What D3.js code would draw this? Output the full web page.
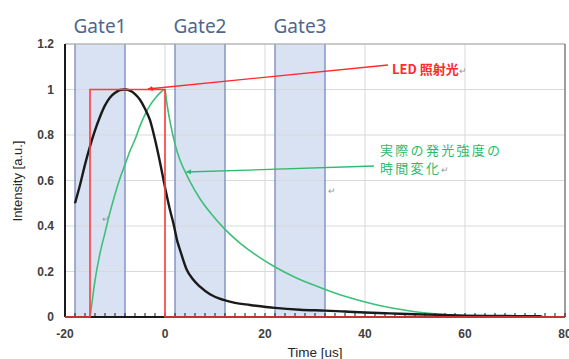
<!DOCTYPE html>
<html><head><meta charset="utf-8">
<script src="https://cdn.jsdelivr.net/npm/d3@7"></script>
<style>body{margin:0;background:#fff}svg{display:block}</style>
</head><body><svg id="c" width="569" height="359"></svg>
<script>
// ---- data ----
const xTicks = [-20, 0, 20, 40, 60, 80];
const yTicks = [0, 0.2, 0.4, 0.6, 0.8, 1, 1.2];
const yTickLabels = ["0", "0.2", "0.4", "0.6", "0.8", "1", "1.2"];
const gateNames = ["Gate1", "Gate2", "Gate3"];
const gateStart = [-18, 2, 22];
const gateEnd = [-8, 12, 32];
const ledX = [-20, -15, -15, 0, 0, 80];
const ledY = [0, 0, 1, 1, 0, 0];
const emitX = [-18, -17, -16, -15, -14, -13, -12, -11, -10, -9, -8, -7, -6, -5, -4, -3, -2, -1, 0, 1, 1.7, 2.5, 3, 4.3, 5.5, 7, 9, 11.7, 14, 17, 22, 27, 32, 36, 40, 45, 50, 55, 60, 65, 70, 75, 75.5];
const emitY = [0.50, 0.58, 0.67, 0.75, 0.82, 0.88, 0.93, 0.965, 0.985, 0.998, 1.0, 0.995, 0.98, 0.955, 0.915, 0.865, 0.78, 0.68, 0.57, 0.47, 0.41, 0.33, 0.295, 0.21, 0.168, 0.133, 0.10, 0.075, 0.062, 0.053, 0.04, 0.032, 0.028, 0.024, 0.02, 0.016, 0.012, 0.009, 0.006, 0.005, 0.004, 0.003, 0];
const respX = [-15, -14.5, -14, -13, -12, -11, -10, -9, -8, -7, -6, -5, -4, -3, -2, -1, 0, 0.3, 1, 2, 3, 4, 5, 7, 9, 12, 15, 18, 22, 26, 30, 34, 38, 42, 46, 50, 54, 58, 62, 66, 70, 80];
const respY = [0, 0.08, 0.16, 0.28, 0.37, 0.46, 0.54, 0.61, 0.67, 0.73, 0.78, 0.84, 0.89, 0.93, 0.96, 0.985, 1.0, 0.95, 0.86, 0.76, 0.69, 0.64, 0.595, 0.52, 0.46, 0.385, 0.325, 0.275, 0.22, 0.175, 0.138, 0.105, 0.078, 0.055, 0.037, 0.023, 0.014, 0.008, 0.004, 0.0015, 0, 0];
const minorTicks = d3.range(-20, 81, 2);

// ---- drawing ----
const svg = d3.select("#c");
const x = d3.scaleLinear().domain([-20, 80]).range([65, 565]);
const y = d3.scaleLinear().domain([0, 1.2]).range([317, 44]);

const defs = svg.append("defs");
function marker(id, color) {
  defs.append("marker").attr("id", id).attr("viewBox", "0 0 10 10")
    .attr("refX", 9).attr("refY", 5).attr("markerWidth", 4).attr("markerHeight", 4)
    .attr("orient", "auto").attr("markerUnits", "strokeWidth")
    .append("path").attr("d", "M0,0L10,5L0,10Z").attr("fill", color);
}
marker("ar", "#ff2a2a");
marker("ag", "#2dbb6a");

// gates fill
const gates = svg.append("g");
gateStart.forEach((s, i) => {
  gates.append("rect").attr("x", x(s)).attr("y", y(1.2)).attr("width", x(gateEnd[i]) - x(s))
    .attr("height", y(0) - y(1.2)).attr("fill", "#d9e2f3");
});

// gridlines
const grid = svg.append("g").attr("stroke", "#d9d9d9").attr("stroke-width", 1);
yTicks.filter(v => v > 0).forEach(v => grid.append("line").attr("x1", x(-20)).attr("x2", x(80)).attr("y1", y(v)).attr("y2", y(v)));
xTicks.filter(v => v > -20 && v < 80).forEach(v => grid.append("line").attr("x1", x(v)).attr("x2", x(v)).attr("y1", y(0)).attr("y2", y(1.2)));

// gate borders
const gb = svg.append("g").attr("stroke", "#7589bd").attr("stroke-width", 1.3);
gateStart.forEach((s, i) => {
  [s, gateEnd[i]].forEach(v => gb.append("line").attr("x1", x(v)).attr("x2", x(v)).attr("y1", y(0)).attr("y2", y(1.2)));
});

// frame
svg.append("line").attr("x1", x(-20)).attr("x2", x(80)).attr("y1", y(1.2)).attr("y2", y(1.2)).attr("stroke", "#a6a6a6");
svg.append("line").attr("x1", x(80)).attr("x2", x(80)).attr("y1", y(0)).attr("y2", y(1.2)).attr("stroke", "#7f7f7f").attr("stroke-width", 1.5);

// gate labels
gateNames.forEach((n, i) => {
  svg.append("text").attr("x", (x(gateStart[i]) + x(gateEnd[i])) / 2).attr("y", 33)
    .attr("text-anchor", "middle").attr("font-family", "Noto Sans, sans-serif").attr("font-size", 19)
    .attr("fill", "#4d6790").text(n);
});

const line = d3.line().x(d => x(d[0])).y(d => y(d[1]));
// green response
svg.append("path").datum(respX.map((v, i) => [v, respY[i]]))
  .attr("d", line.curve(d3.curveMonotoneX)).attr("fill", "none").attr("stroke", "#3cbf78").attr("stroke-width", 1.6);
// black emission
svg.append("path").datum(emitX.map((v, i) => [v, emitY[i]]))
  .attr("d", line.curve(d3.curveMonotoneX)).attr("fill", "none").attr("stroke", "#1a1a1a").attr("stroke-width", 2.4);

// axes
svg.append("line").attr("x1", x(-20)).attr("x2", x(-20)).attr("y1", y(0)).attr("y2", y(1.2)).attr("stroke", "#1a1a1a").attr("stroke-width", 2);
svg.append("line").attr("x1", x(-20)).attr("x2", x(80)).attr("y1", y(0)).attr("y2", y(0)).attr("stroke", "#1a1a1a").attr("stroke-width", 2);
const tg = svg.append("g").attr("stroke", "#1a1a1a").attr("stroke-width", 1);
minorTicks.forEach(v => tg.append("line").attr("x1", x(v)).attr("x2", x(v)).attr("y1", y(0) - 4).attr("y2", y(0)));

// red LED
svg.append("path").datum(ledX.map((v, i) => [v, ledY[i]]))
  .attr("d", line.curve(d3.curveLinear)).attr("fill", "none").attr("stroke", "#ff3b3b").attr("stroke-width", 1.6);

// tick labels
const lblFont = "Liberation Sans, Arial, sans-serif";
yTicks.forEach((v, i) => svg.append("text").attr("x", 54).attr("y", y(v) + 4).attr("text-anchor", "end")
  .attr("font-family", lblFont).attr("font-size", 12).attr("font-weight", "bold").attr("fill", "#404040").text(yTickLabels[i]));
xTicks.forEach(v => svg.append("text").attr("x", x(v)).attr("y", 338).attr("text-anchor", "middle")
  .attr("font-family", lblFont).attr("font-size", 12).attr("font-weight", "bold").attr("fill", "#404040").text(v));

// axis titles
svg.append("text").attr("transform", "translate(22,181) rotate(-90)").attr("text-anchor", "middle")
  .attr("font-family", lblFont).attr("font-size", 13).attr("fill", "#262626").text("Intensity [a.u.]");
svg.append("text").attr("x", 315).attr("y", 357).attr("text-anchor", "middle")
  .attr("font-family", lblFont).attr("font-size", 13.5).attr("fill", "#262626").text("Time [us]");

// annotations
svg.append("line").attr("x1", 388).attr("y1", 65).attr("x2", x(-3.4)).attr("y2", 89)
  .attr("stroke", "#ff2a2a").attr("stroke-width", 1.3).attr("marker-end", "url(#ar)");
const jp = "Noto Sans CJK JP, sans-serif";
const t1 = svg.append("text").attr("x", 392).attr("y", 74).attr("font-family", jp).attr("font-size", 13)
  .attr("font-weight", "bold").attr("fill", "#ff2a2a");
t1.append("tspan").text("LED 照射光");
t1.append("tspan").attr("font-size", 9).attr("font-weight", "normal").attr("fill", "#999").text("↵");

svg.append("line").attr("x1", 374).attr("y1", 166).attr("x2", x(4.3)).attr("y2", 172)
  .attr("stroke", "#2dbb6a").attr("stroke-width", 1.3).attr("marker-end", "url(#ag)");
svg.append("text").attr("x", 380).attr("y", 155).attr("font-family", jp).attr("font-size", 13)
  .attr("letter-spacing", 2.3).attr("fill", "#2dbb6a").text("実際の発光強度の");
const t2 = svg.append("text").attr("x", 380).attr("y", 173).attr("font-family", jp).attr("font-size", 13)
  .attr("letter-spacing", 2.3).attr("fill", "#2dbb6a");
t2.append("tspan").text("時間変化");
t2.append("tspan").attr("font-size", 9).attr("letter-spacing", 0).attr("fill", "#999").text("↵");

svg.append("text").attr("x", 102).attr("y", 222).attr("font-family", jp).attr("font-size", 9).attr("fill", "#999").text("↵");
svg.append("text").attr("x", 328).attr("y", 194).attr("font-family", jp).attr("font-size", 9).attr("fill", "#999").text("↵");
</script></body></html>
